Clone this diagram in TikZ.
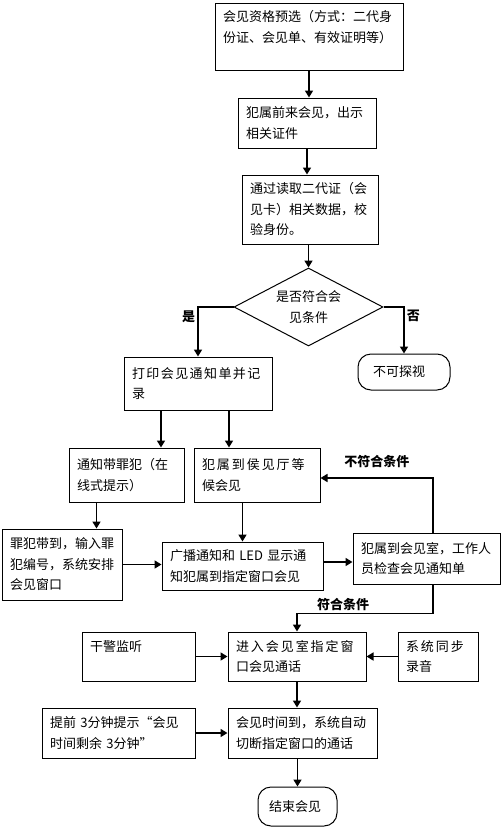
\documentclass[tikz,border=0pt]{standalone}
\usepackage{fontspec}
\setmainfont{Noto Sans CJK SC}
\usetikzlibrary{arrows.meta, shapes.geometric, positioning}
\newcommand\wideline[2]{{\addfontfeature{LetterSpace=#1}#2}}

\begin{document}
\begin{tikzpicture}[x=1pt, y=-1pt, >={Triangle[width=8pt,length=7pt]},
        font=\fontsize{13}{20.5}\selectfont,
        box/.style={draw, line width=1pt, inner xsep=8pt, inner ysep=2pt, align=left, text width=#1},
        endbox/.style={draw, line width=1pt, rounded corners=13pt, inner xsep=#1, align=left},
        check/.style={draw, diamond, line width=1pt, inner sep=0pt, aspect=1.9, align=center,
            minimum width=149pt, minimum height=78pt},
        tag/.style={font=\fontsize{13}{15}\selectfont\bfseries, inner sep=2pt},
        flow/.style={->, line width=1.6pt}]
    \useasboundingbox (0,0) rectangle (501,827);
        % main column
        \node[box=172pt, minimum height=67pt] (A) at (309,36.5) {会见资格预选（方式：二代身\\份证、会见单、有效证明等）\\ \mbox{}};
        \node[box=122pt, minimum height=50pt] (B) at (307,123) {犯属前来会见，出示\\相关证件};
        \node[box=120pt, minimum height=69pt] (C) at (310,209.5) {通过读取二代证（会\\见卡）相关数据，校\\验身份。};
        \node[check] (Q) at (308.5,307) {是否符合会\\见条件};
        \node[box=132pt, minimum height=53pt] (D) at (198,383.5) {\wideline{11}{打印会见通知单并记}\\录};
        \node[endbox=15pt, text width=62pt, minimum height=36pt] (Nv) at (404,372) {不可探视};
        \node[box=99pt, minimum height=54pt] (E) at (126.5,475) {通知带罪犯（在\\线式提示）};
        \node[box=110pt, minimum height=54pt] (F) at (257,475) {\wideline{15}{犯属到侯见厅等}\\候会见};
        \node[box=104pt, minimum height=71pt] (G) at (62,564.5) {罪犯带到，输入罪\\犯编号，系统安排\\会见窗口};
        \node[box=145pt, minimum height=48pt] (H) at (242.5,566) {广播通知和~LED~显示通\\知犯属到指定窗口会见};
        \node[box=131pt, minimum height=51pt] (I) at (426.5,558.5) {犯属到会见室，工作人\\员检查会见通知单};
        \node[box=97pt, minimum height=49pt] (K) at (138.5,656.5) {干警监听\\ \mbox{}};
        \node[box=122pt, minimum height=49pt] (J) at (297,656.5) {\wideline{15}{进入会见室指定窗}\\口会见通话};
        \node[box=64pt, minimum height=49pt] (L) at (438,656.5) {\wideline{15}{系统同步}\\录音};
        \node[box=137pt, minimum height=50pt] (N) at (118.5,733) {提前~3分钟提示“会见\\时间剩余~3分钟”};
        \node[box=133pt, minimum height=50pt] (M) at (302.5,733) {会见时间到，系统自动\\切断指定窗口的通话};
        \node[endbox=11pt, text width=57pt, minimum height=39pt] (O) at (297.5,806.5) {结束会见};

        \path[flow]
            (A.south) edge (A.south |- B.north)
            (B.south) edge (B.south |- C.north)
            (Q.north |- C.south) edge (Q.north)
            ([xshift=-37pt]D.south) edge ([xshift=-37pt]D.south |- E.north)
            ([xshift=31pt]D.south) edge ([xshift=31pt]D.south |- F.north)
            ([xshift=-30pt]E.south) edge ([xshift=-30pt]E.south |- G.north)
            (H.north |- F.south) edge (H.north)
            (G.east) edge (G.east -| H.west)
            ([yshift=4pt]H.east) edge ([yshift=4pt]H.east -| I.west)
            (K.east) edge (K.east -| J.west)
            (L.west) edge (L.west -| J.east)
            (J.south) edge (J.south |- M.north)
            (N.east) edge (N.east -| M.west)
            (O.north |- M.south) edge (O.north);
        \draw[flow] (Q.west) -| node[tag, pos=0.6, left] {是} (D.north);
        \draw[flow] (Q.east) -| node[tag, pos=0.6, right] {否} (Nv.north);
        \draw[flow] ([xshift=6.5pt]I.north) |- node[tag, pos=0.75, above=7pt] {不符合条件} ([yshift=-3pt]F.east);
        \draw[flow] ([xshift=6.5pt]I.south) -- ++(0,29) -| node[tag, pos=0.33, above] {符合条件} (J.north);
\end{tikzpicture}
\end{document}
